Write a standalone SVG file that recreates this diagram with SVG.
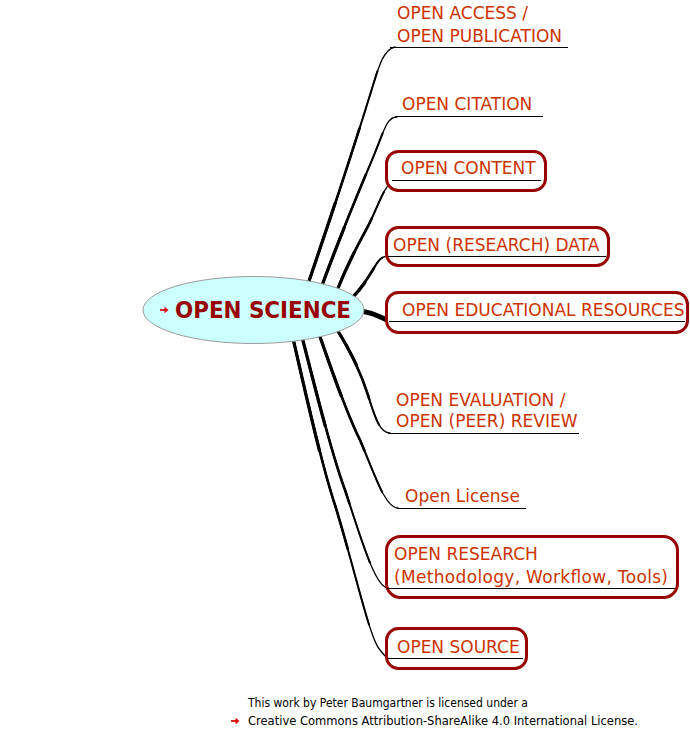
<svg xmlns="http://www.w3.org/2000/svg" width="690" height="744" viewBox="0 0 690 744">
  <style>
    .bg { fill: #ffffff; }
    .label { font-family: "DejaVu Sans", Verdana, sans-serif; font-size: 17px; fill: #cc3300; }
    .title { font-family: "DejaVu Sans Condensed", "DejaVu Sans", sans-serif; font-weight: bold; font-size: 23px; fill: #990000; }
    .footer { font-family: "DejaVu Sans", Verdana, sans-serif; font-size: 12px; fill: #000000; }
    .box { fill: #ffffff; stroke: #990000; stroke-width: 3; }
    .uline { stroke: #000000; stroke-width: 1; fill: none; }
    /* branches are stacked strokes so they taper from root to leaf */
    .t1 { fill: none; stroke: #000000; stroke-width: 1.3; stroke-linecap: round; }
    .t2 { fill: none; stroke: #000000; stroke-width: 2.0; stroke-linecap: round; stroke-dasharray: 88 200; }
    .t3 { fill: none; stroke: #000000; stroke-width: 2.6; stroke-linecap: round; stroke-dasharray: 65 200; }
    .t4 { fill: none; stroke: #000000; stroke-width: 3.2; stroke-linecap: round; stroke-dasharray: 35 200; }
  </style>
  <defs>
    <!-- small hyperlink arrow -->
    <g id="linkArrow">
      <line x1="0" y1="0" x2="5.5" y2="0" stroke="#dd0000" stroke-width="1.7"/>
      <polygon points="4.5,-3.2 8.5,0 4.5,3.2" fill="#dd0000"/>
    </g>
    <path id="p-access" pathLength="100" d="M306,290 C318,255 350,160 370,95 C378,70 382,50 395,47"/>
    <path id="p-citation" pathLength="100" d="M320,291 C333,255 355,200 372,160 C384,132 386,117 397,117"/>
    <path id="p-content" pathLength="100" d="M336,293 C345,270 355,250 366,230 C378,208 384,184 394,181"/>
    <path id="p-data" pathLength="100" d="M352,298 C362,288 368,278 374,268 C378,261 381,256 389,256"/>
    <path id="p-evaluation" pathLength="100" d="M336,328 C350,350 360,370 368,395 C375,418 380,433 390,433"/>
    <path id="p-license" pathLength="100" d="M318,331 C330,365 345,410 360,440 C375,475 385,508 398,508"/>
    <path id="p-research" pathLength="100" d="M301,333 C312,375 330,450 345,490 C360,535 375,588 388,588"/>
    <path id="p-source" pathLength="100" d="M292,334 C305,390 320,460 335,505 C355,570 370,640 380,650 C384,655 386,658 390,658"/>
  </defs>

  <rect class="bg" x="0" y="0" width="690" height="744"/>

  <!-- branches -->
  <g id="connectors">
    <use href="#p-access" class="t1"/>
    <use href="#p-access" class="t2"/>
    <use href="#p-access" class="t3"/>
    <use href="#p-access" class="t4"/>
    <use href="#p-citation" class="t1"/>
    <use href="#p-citation" class="t2"/>
    <use href="#p-citation" class="t3"/>
    <use href="#p-citation" class="t4"/>
    <use href="#p-content" class="t1"/>
    <use href="#p-content" class="t2"/>
    <use href="#p-content" class="t3"/>
    <use href="#p-content" class="t4"/>
    <use href="#p-data" class="t1"/>
    <use href="#p-data" class="t2"/>
    <use href="#p-data" class="t3"/>
    <use href="#p-data" class="t4"/>
    <use href="#p-evaluation" class="t1"/>
    <use href="#p-evaluation" class="t2"/>
    <use href="#p-evaluation" class="t3"/>
    <use href="#p-evaluation" class="t4"/>
    <use href="#p-license" class="t1"/>
    <use href="#p-license" class="t2"/>
    <use href="#p-license" class="t3"/>
    <use href="#p-license" class="t4"/>
    <use href="#p-research" class="t1"/>
    <use href="#p-research" class="t2"/>
    <use href="#p-research" class="t3"/>
    <use href="#p-research" class="t4"/>
    <use href="#p-source" class="t1"/>
    <use href="#p-source" class="t2"/>
    <use href="#p-source" class="t3"/>
    <use href="#p-source" class="t4"/>
    <!-- short heavy branch to the educational resources node -->
    <path d="M355,311 C370,311 378,316 389,321" fill="none" stroke="#000" stroke-width="5" stroke-linecap="round"/>
  </g>

  <!-- central topic -->
  <g id="open-science">
    <ellipse cx="253.5" cy="310" rx="110.5" ry="33.5" fill="#ccffff" stroke="#999999" stroke-width="1"/>
    <use href="#linkArrow" x="160" y="310"/>
    <text class="title" x="175" y="318" textLength="176" lengthAdjust="spacingAndGlyphs">OPEN SCIENCE</text>
  </g>

  <g id="open-access">
    <text class="label" x="397" y="19">OPEN ACCESS /</text>
    <text class="label" x="397" y="42">OPEN PUBLICATION</text>
    <line class="uline" x1="390" y1="47.5" x2="568" y2="47.5"/>
  </g>

  <g id="open-citation">
    <text class="label" x="402" y="110">OPEN CITATION</text>
    <line class="uline" x1="395" y1="116.5" x2="543" y2="116.5"/>
  </g>

  <g id="open-content">
    <rect class="box" x="386.5" y="151.5" width="159" height="39" rx="12"/>
    <text class="label" x="401" y="174">OPEN CONTENT</text>
    <line class="uline" x1="392" y1="180.5" x2="541" y2="180.5"/>
  </g>

  <g id="open-data">
    <rect class="box" x="386.5" y="227.5" width="222" height="38" rx="12"/>
    <text class="label" x="393" y="251">OPEN (RESEARCH) DATA</text>
    <line class="uline" x1="388" y1="256.5" x2="606" y2="256.5"/>
  </g>

  <g id="open-educational-resources">
    <rect class="box" x="386.5" y="292.5" width="301" height="40" rx="12"/>
    <text class="label" x="402" y="316">OPEN EDUCATIONAL RESOURCES</text>
    <line class="uline" x1="389" y1="321.5" x2="685" y2="321.5"/>
  </g>

  <g id="open-evaluation">
    <text class="label" x="396" y="406">OPEN EVALUATION /</text>
    <text class="label" x="396" y="427">OPEN (PEER) REVIEW</text>
    <line class="uline" x1="388" y1="433.5" x2="579" y2="433.5"/>
  </g>

  <g id="open-license">
    <text class="label" x="405" y="502">Open License</text>
    <line class="uline" x1="397" y1="508.5" x2="526" y2="508.5"/>
  </g>

  <g id="open-research">
    <rect class="box" x="386.5" y="536.5" width="291" height="61" rx="14"/>
    <text class="label" x="394" y="560">OPEN RESEARCH</text>
    <text class="label" x="394" y="583" textLength="274">(Methodology, Workflow, Tools)</text>
    <line class="uline" x1="387" y1="588.5" x2="675" y2="588.5"/>
  </g>

  <g id="open-source">
    <rect class="box" x="386.5" y="628.5" width="140" height="40" rx="12"/>
    <text class="label" x="397" y="653">OPEN SOURCE</text>
    <line class="uline" x1="388" y1="658.5" x2="523" y2="658.5"/>
  </g>

  <!-- licence note -->
  <g id="license-note">
    <text class="footer" x="248" y="707" textLength="280" lengthAdjust="spacingAndGlyphs">This work by Peter Baumgartner is licensed under a</text>
    <use href="#linkArrow" x="231" y="721"/>
    <text class="footer" x="248" y="725" textLength="390" lengthAdjust="spacingAndGlyphs">Creative Commons Attribution-ShareAlike 4.0 International License.</text>
  </g>
</svg>
